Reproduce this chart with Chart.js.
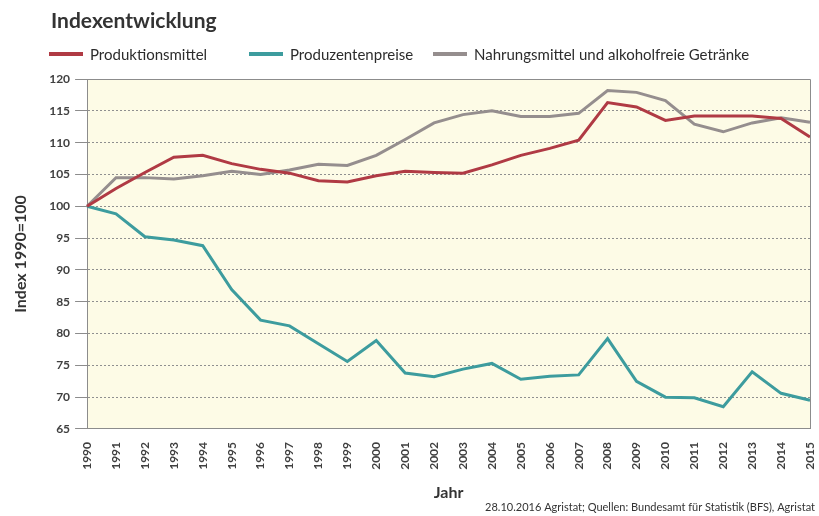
<!DOCTYPE html>
<html>
<head>
<meta charset="utf-8">
<script src="https://cdn.jsdelivr.net/npm/chart.js@4/dist/chart.umd.min.js"></script>
<style>
  html, body { margin: 0; padding: 0; background: #fff; }
  #wrap { width: 819px; height: 516px; position: relative; }
</style>
</head>
<body>
<div id="wrap"><canvas id="c" width="819" height="516"></canvas></div>
<script>
const years = ['1990', '1991', '1992', '1993', '1994', '1995', '1996', '1997', '1998', '1999', '2000', '2001', '2002',
  '2003', '2004', '2005', '2006', '2007', '2008', '2009', '2010', '2011', '2012', '2013', '2014', '2015'];

const produktionsmittel = [100, 102.8, 105.3, 107.7, 108.0, 106.7, 105.8, 105.2, 104.0, 103.8, 104.8, 105.5, 105.3,
  105.2, 106.5, 108.0, 109.1, 110.4, 116.3, 115.6, 113.5, 114.2, 114.2, 114.2, 113.8, 110.9];

const produzentenpreise = [100, 98.8, 95.2, 94.7, 93.8, 86.9, 82.1, 81.2, 78.4, 75.6, 78.9, 73.8, 73.2,
  74.4, 75.3, 72.8, 73.3, 73.5, 79.2, 72.5, 70.0, 69.9, 68.5, 74.0, 70.6, 69.5];

const nahrungsmittel = [100, 104.5, 104.5, 104.3, 104.8, 105.5, 105.0, 105.7, 106.6, 106.4, 108.0, 110.5, 113.1,
  114.4, 115.0, 114.1, 114.1, 114.6, 118.2, 117.9, 116.6, 112.9, 111.7, 113.1, 113.9, 113.2];

const FONT = 'Lato, "Open Sans", sans-serif';
const TEXT = '#404040';

const legendItems = [
  { label: 'Produktionsmittel', color: '#b03a44', x: 49 },
  { label: 'Produzentenpreise', color: '#3d9c9e', x: 249 },
  { label: 'Nahrungsmittel und alkoholfreie Getränke', color: '#958e8e', x: 433 },
];

const decorPlugin = {
  id: 'decor',
  beforeDraw(chart) {
    const { ctx, chartArea } = chart;
    ctx.save();
    ctx.fillStyle = '#fdfbe6';
    ctx.fillRect(chartArea.left, chartArea.top, chartArea.right - chartArea.left, chartArea.bottom - chartArea.top);
    ctx.restore();
  },
  afterDraw(chart) {
    const { ctx, chartArea } = chart;
    ctx.save();
    // frame: top and right
    ctx.strokeStyle = '#8c8c8c';
    ctx.lineWidth = 1;
    ctx.beginPath();
    ctx.moveTo(chartArea.left, chartArea.top + 0.5);
    ctx.lineTo(chartArea.right + 0.5, chartArea.top + 0.5);
    ctx.lineTo(chartArea.right + 0.5, chartArea.bottom);
    ctx.stroke();

    // title
    ctx.fillStyle = '#333';
    ctx.font = `bold 21px ${FONT}`;
    ctx.textBaseline = 'alphabetic';
    ctx.fillText('Indexentwicklung', 51, 28);

    // legend
    ctx.font = `15px ${FONT}`;
    legendItems.forEach((it) => {
      ctx.fillStyle = it.color;
      ctx.fillRect(it.x, 52, 34, 4);
      ctx.fillStyle = '#2c2c2c';
      ctx.fillText(it.label, it.x + 41, 60);
    });

    // source
    ctx.font = `11px ${FONT}`;
    ctx.fillStyle = '#333';
    ctx.textAlign = 'right';
    ctx.fillText('28.10.2016 Agristat; Quellen: Bundesamt für Statistik (BFS), Agristat', 815, 511);
    ctx.restore();
  },
};

new Chart(document.getElementById('c'), {
  type: 'line',
  data: {
    labels: years,
    datasets: [
      { label: 'Produktionsmittel', data: produktionsmittel, borderColor: '#b03a44' },
      { label: 'Produzentenpreise', data: produzentenpreise, borderColor: '#3d9c9e' },
      { label: 'Nahrungsmittel und alkoholfreie Getränke', data: nahrungsmittel, borderColor: '#958e8e' },
    ].map((d) => ({ ...d, borderWidth: 3, pointRadius: 0, tension: 0, fill: false })),
  },
  options: {
    responsive: false,
    animation: false,
    layout: { padding: { left: 11, right: 0, top: 79, bottom: 14 } },
    plugins: {
      legend: { display: false },
      title: { display: false },
      tooltip: { enabled: false },
    },
    scales: {
      x: {
        offset: false,
        afterFit(scale) {
          scale.paddingRight = 9;
        },
        grid: { display: false, drawOnChartArea: false, drawTicks: true, tickLength: 10, tickColor: '#8c8c8c' },
        border: { display: true, color: '#8c8c8c', width: 1 },
        ticks: {
          color: TEXT,
          font: { family: FONT, size: 12, weight: 'bold' },
          maxRotation: 90,
          minRotation: 90,
          autoSkip: false,
          padding: 3,
        },
        title: {
          display: true,
          text: 'Jahr',
          color: '#333',
          font: { family: FONT, size: 16, weight: 'bold' },
          padding: { top: 10, bottom: 0 },
        },
      },
      y: {
        min: 65,
        max: 120,
        ticks: {
          stepSize: 5,
          color: TEXT,
          font: { family: FONT, size: 12, weight: 'bold' },
          padding: 5,
        },
        grid: {
          color: '#8f8f8f',
          lineWidth: 1,
          drawTicks: true,
          tickLength: 12,
          tickColor: '#8c8c8c',
          tickBorderDash: [],
        },
        border: { display: true, color: '#8c8c8c', width: 1, dash: [2, 2] },
        title: {
          display: true,
          text: 'Index 1990=100',
          color: '#333',
          font: { family: FONT, size: 16, weight: 'bold' },
          padding: { top: 0, bottom: 14 },
        },
      },
    },
  },
  plugins: [decorPlugin],
});
</script>
</body>
</html>
